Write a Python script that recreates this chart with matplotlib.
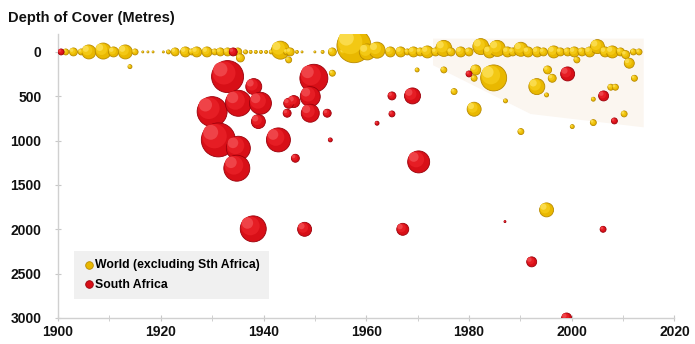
import numpy as np
import matplotlib
matplotlib.use("Agg")
import matplotlib.pyplot as plt
from matplotlib.patches import Polygon
from matplotlib.transforms import offset_copy

plt.rcParams['font.family'] = ['Liberation Sans', 'DejaVu Sans']

# World (excluding South Africa): year, depth of cover (m), bubble size (relative radius)
world_year = [1901.5, 1903, 1904.5, 1906, 1908.8, 1910.8, 1913.1, 1915, 1916.5, 1917.5,
              1918.5, 1920.5, 1921.5, 1922.8, 1924.8, 1926, 1927, 1929, 1930.5, 1931.6,
              1933, 1935, 1936.5, 1937.5, 1938.5, 1939.5, 1940.5, 1941.5, 1943.3, 1944.5,
              1945.2, 1946.5, 1947.5, 1950, 1951.5, 1953.4, 1955.5, 1957.6, 1960.2, 1962.1,
              1964.7, 1966.7, 1968, 1969.2, 1970.5, 1971.9, 1973.5, 1975.1, 1976.5, 1978.4,
              1980, 1982.3, 1984, 1985.5, 1987.5, 1988.5, 1990.1, 1991.5, 1993.3, 1994.5,
              1996.5, 1997.8, 1999.2, 2000.5, 2002, 2003.5, 2005, 2006.5, 2007.9, 2009.5,
              2010.5, 2011.2, 2012, 2013.1,
              1914.0, 1935.5, 1944.9, 1953.4, 1969.9, 1975.1, 1977.1, 1981.0, 1981.3, 1981.0,
              1984.8, 1987.1, 1990.1, 1993.2, 1995.1, 1995.3, 1995.1, 1996.2, 2000.1, 2001.0,
              2004.2, 2004.2, 2007.6, 2008.5, 2010.2, 2012.2]
world_depth = [0, 0, 0, 0, -10, 0, 0, 0, 0, 0,
               0, 0, 0, 0, 0, 0, 0, 0, 0, 0,
               0, 0, 0, 0, 0, 0, 0, 0, -20, 0,
               0, 0, 0, 0, 0, 0, 0, -70, 0, -20,
               0, 0, 0, 0, 0, 0, 0, -40, 0, 0,
               0, -60, 0, -40, 0, 0, -30, 0, 0, 0,
               0, 0, 0, 0, 0, 0, -60, 0, 0, 0,
               30, 127, 0, 0,
               166, 68, 90, 240, 203, 203, 447, 646, 203, 297,
               293, 552, 898, 391, 485, 203, 1781, 297, 842, 90,
               533, 797, 398, 398, 699, 297]
world_size = [3, 4, 3, 7, 8, 5, 7, 3, 1, 1,
              1, 1, 2, 4, 5, 3, 5, 5, 3, 4,
              4, 4, 2, 1.5, 1.5, 1.5, 1.5, 2, 9, 3,
              4, 1.5, 1, 1, 1.5, 4, 3, 17, 8, 8,
              5, 5, 3, 5, 4, 6, 4, 8, 4, 5,
              4, 8, 6, 8, 5, 4, 7, 5, 5, 4,
              6, 4, 4, 5, 4, 5, 7, 5, 6, 4,
              4, 5, 3, 3,
              2, 4, 3, 3, 2, 3, 3, 7, 5, 3,
              13, 2, 3, 8, 2, 4, 7, 4, 2, 3,
              2, 3, 3, 3, 3, 3]

# South Africa
sa_year = [1900.6, 1934.1, 1933.0, 1930.0, 1935.1, 1938.1, 1939.4, 1931.2, 1935.1, 1934.8,
           1939.0, 1942.9, 1946.2, 1949.8, 1949.1, 1949.1, 1945.9, 1944.6, 1944.9, 1952.4,
           1953.0, 1938.0, 1948.0, 1967.1, 1970.2, 1969.0, 1965.0, 1965.0, 1962.1, 1999.2,
           2006.2, 2008.3, 1980.0, 1992.2, 1999.0, 2006.1, 1987.0]
sa_depth = [0, 0, 278, 673, 579, 391, 579, 992, 1086, 1311,
            785, 992, 1199, 297, 504, 691, 560, 691, 579, 691,
            992, 1995, 2000, 2000, 1240, 496, 496, 699, 804, 248,
            496, 778, 248, 2367, 3000, 2000, 1913]
sa_size = [3, 4, 16, 15, 13, 8, 11, 17, 12, 13,
           7, 12, 4, 14, 10, 9, 6, 4, 5, 4,
           2, 13, 7, 6, 11, 8, 4, 3, 2, 7,
           5, 3, 3, 5, 5, 3, 1]

x_ticks = [1900, 1920, 1940, 1960, 1980, 2000, 2020]
y_ticks = [0, 500, 1000, 1500, 2000, 2500, 3000]


def area(r):
    # relative radius (px) -> scatter area (pt^2)
    return (2 * np.asarray(r, dtype=float) * 0.72) ** 2


def spheres(ax, xs, ys, rs, base, edge, shades, z, label):
    ax.scatter(xs, ys, s=area(rs), color=base, edgecolors=edge, linewidths=0.6,
               zorder=z, label=label)
    # lighter layers shifted up-left for a shaded ball look
    for x, y, r in zip(xs, ys, rs):
        for k, c in enumerate(shades, start=1):
            f = 1 - 0.28 * k
            off = 0.72 * r * (1 - f) * 0.8
            tr = offset_copy(ax.transData, fig=ax.figure, x=-off, y=off, units='points')
            ax.scatter([x], [y], s=area(r * f), color=c, edgecolors='none',
                       transform=tr, zorder=z)


fig = plt.figure(figsize=(6.95, 3.44), dpi=100)
ax = fig.add_axes([0.0835, 0.0756, 0.887, 0.825])

# faint shaded backdrop behind recent bubbles
ax.add_patch(Polygon([(1973, -150), (2014, -150), (2014, 850), (1992, 700), (1973, 150)],
                     closed=True, facecolor='#fbf6f0', edgecolor='none', zorder=0))

spheres(ax, world_year, world_depth, world_size, '#e9b800', '#b88a00',
        ['#f3c814', '#fadb4a'], 2, 'World (excluding Sth Africa)')
spheres(ax, sa_year, sa_depth, sa_size, '#d80f17', '#9a000a',
        ['#e61d24', '#ef4348'], 3, 'South Africa')

ax.set_xlim(1900, 2020)
ax.set_ylim(3000, -200)
ax.set_xticks(x_ticks)
ax.set_xticks(range(1900, 2021, 10), minor=True)
ax.set_yticks(y_ticks)

for side in ['top', 'right']:
    ax.spines[side].set_visible(False)
for side in ['left', 'bottom']:
    ax.spines[side].set_color('#d0d0d0')
    ax.spines[side].set_linewidth(1.0)

ax.tick_params(axis='both', which='both', colors='#c8c8c8', labelcolor='#111111',
               labelsize=10, direction='inout', length=4)
for lab in ax.get_xticklabels() + ax.get_yticklabels():
    lab.set_fontweight('bold')
ax.tick_params(axis='y', pad=10)
ax.tick_params(axis='x', pad=3)

fig.text(0.012, 0.948, 'Depth of Cover (Metres)', fontsize=10.5, fontweight='bold',
         color='#111111', ha='left', va='center')

leg = ax.legend(loc='lower left', bbox_to_anchor=(0.016, 0.045), frameon=True,
                fancybox=False, facecolor='#f0f0f0', edgecolor='none', framealpha=1,
                prop={'weight': 'bold', 'size': 8.8}, handletextpad=0.05,
                borderpad=0.7, labelspacing=0.6, handlelength=1.0)
for h in leg.legend_handles:
    h.set_sizes([30])

fig.savefig('out.png', dpi=100)
